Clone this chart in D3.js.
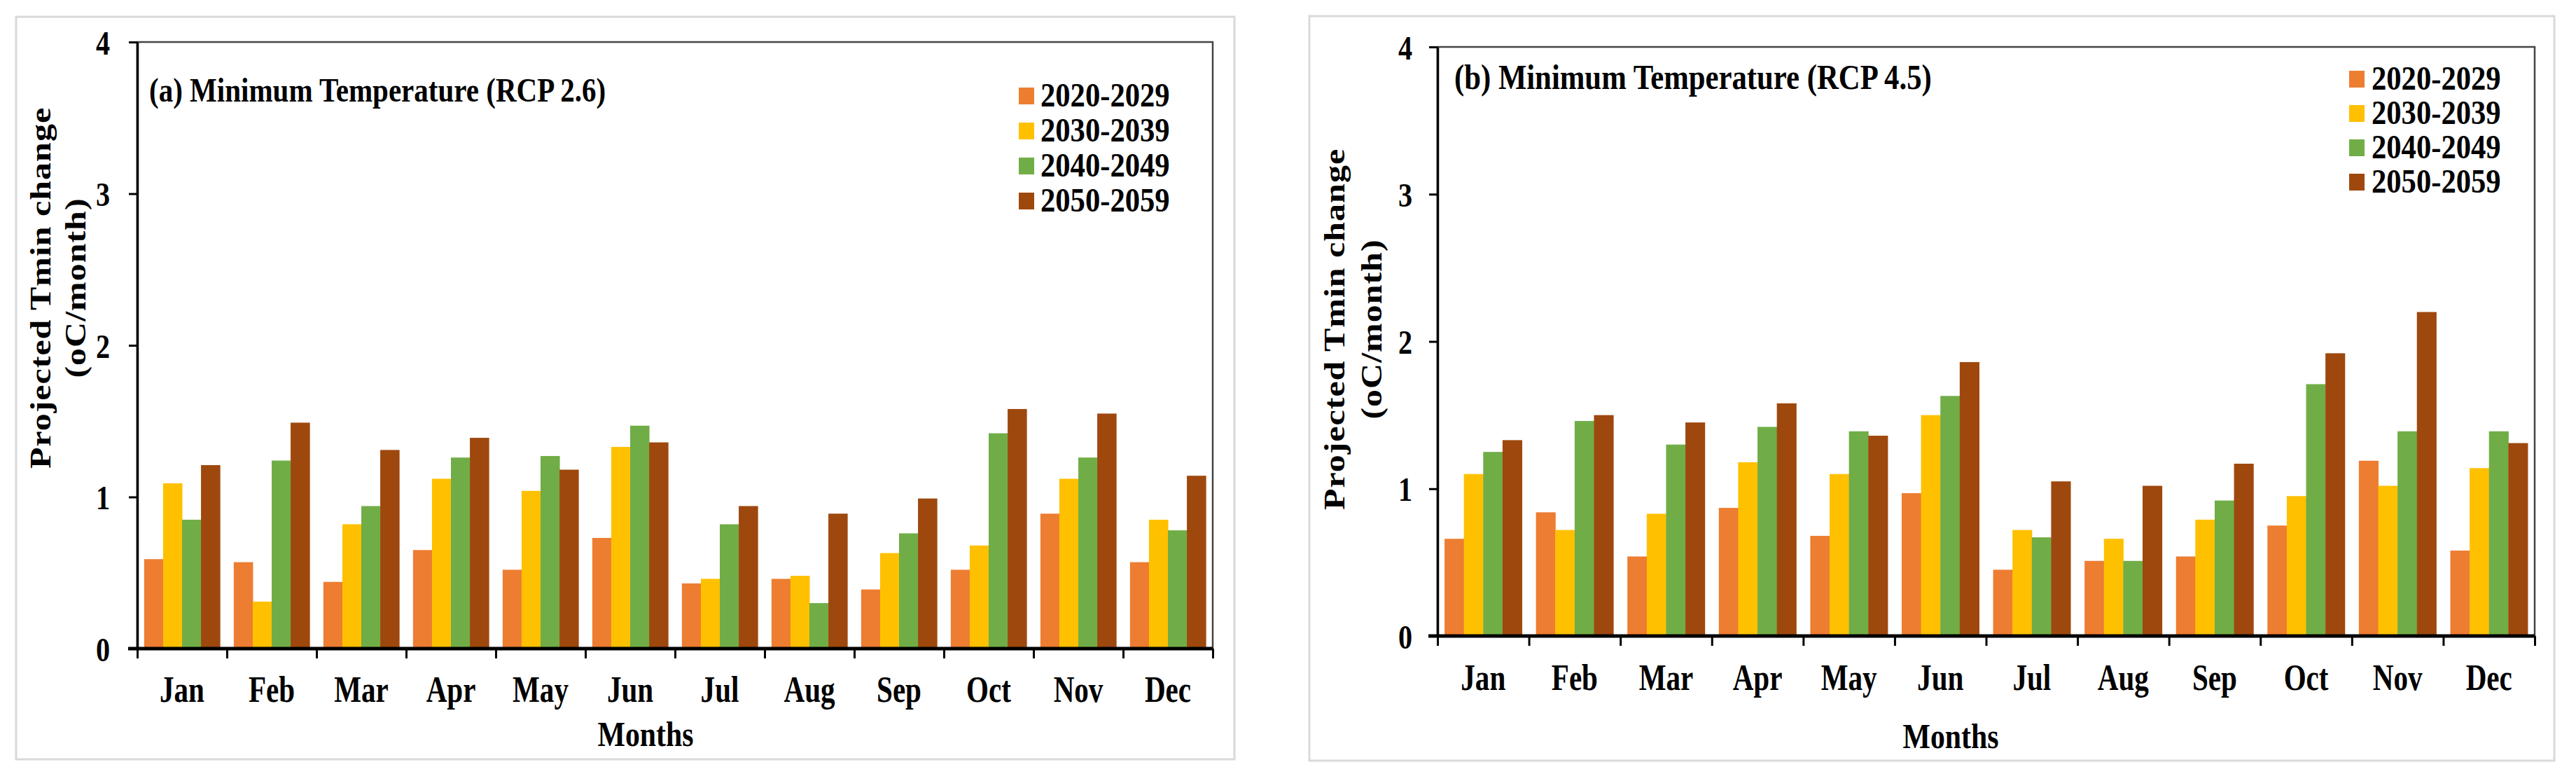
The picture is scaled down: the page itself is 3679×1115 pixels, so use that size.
<!DOCTYPE html>
<html>
<head>
<meta charset="utf-8">
<script src="https://cdn.jsdelivr.net/npm/d3@7"></script>
<style>
  body { margin: 0; background: #fff; }
  text { font-family: "Liberation Serif", "Times New Roman", serif; font-weight: bold; fill: #000; }
</style>
</head>
<body>
<div id="chart"></div>
<script>
// Data
var months = ["Jan", "Feb", "Mar", "Apr", "May", "Jun", "Jul", "Aug", "Sep", "Oct", "Nov", "Dec"];
var periods = ["2020-2029", "2030-2039", "2040-2049", "2050-2059"];
var colors = ["#ED7D31", "#FFC000", "#70AD47", "#9E480E"];
var yTicks = [0, 1, 2, 3, 4];

// (a) RCP 2.6
var rcp26_2020 = [0.59, 0.57, 0.44, 0.65, 0.52, 0.73, 0.43, 0.46, 0.39, 0.52, 0.89, 0.57];
var rcp26_2030 = [1.09, 0.31, 0.82, 1.12, 1.04, 1.33, 0.46, 0.48, 0.63, 0.68, 1.12, 0.85];
var rcp26_2040 = [0.85, 1.24, 0.94, 1.26, 1.27, 1.47, 0.82, 0.30, 0.76, 1.42, 1.26, 0.78];
var rcp26_2050 = [1.21, 1.49, 1.31, 1.39, 1.18, 1.36, 0.94, 0.89, 0.99, 1.58, 1.55, 1.14];

// (b) RCP 4.5
var rcp45_2020 = [0.66, 0.84, 0.54, 0.87, 0.68, 0.97, 0.45, 0.51, 0.54, 0.75, 1.19, 0.58];
var rcp45_2030 = [1.10, 0.72, 0.83, 1.18, 1.10, 1.50, 0.72, 0.66, 0.79, 0.95, 1.02, 1.14];
var rcp45_2040 = [1.25, 1.46, 1.30, 1.42, 1.39, 1.63, 0.67, 0.51, 0.92, 1.71, 1.39, 1.39];
var rcp45_2050 = [1.33, 1.50, 1.45, 1.58, 1.36, 1.86, 1.05, 1.02, 1.17, 1.92, 2.20, 1.31];

var W = 3679, H = 1115;

var panels = [
  {
    title: "(a) Minimum Temperature (RCP 2.6)",
    series: [rcp26_2020, rcp26_2030, rcp26_2040, rcp26_2050],
    frame: { x: 23, y: 24, w: 1740, h: 1060 },
    plot: { left: 196, right: 1732, top: 60, bottom: 926 },
    titlePos: { x: 213, y: 145, size: 48 },
    legend: { swatchX: 1455, textX: 1486, y0: 152, dy: 50 },
    ylab: { x1: 72, x2: 122, cy: 411 },
    tickGap: 39,
    xlabGap: 76,
    monthsPos: { x: 922, y: 1065 }
  },
  {
    title: "(b) Minimum Temperature (RCP 4.5)",
    series: [rcp45_2020, rcp45_2030, rcp45_2040, rcp45_2050],
    frame: { x: 1870, y: 23, w: 1778, h: 1063 },
    plot: { left: 2053, right: 3620, top: 67, bottom: 908 },
    titlePos: { x: 2077, y: 127, size: 50 },
    legend: { swatchX: 3355, textX: 3387, y0: 128, dy: 49 },
    ylab: { x1: 1920, x2: 1973, cy: 470 },
    tickGap: 36,
    xlabGap: 77,
    monthsPos: { x: 2786, y: 1068 }
  }
];

var svg = d3.select("#chart")
  .append("svg")
  .attr("width", W)
  .attr("height", H);

svg.append("rect").attr("width", W).attr("height", H).attr("fill", "#fff");

// the source picture is squeezed horizontally, so text gets a narrow x scale
var SQ = 0.855;

panels.forEach(function (p) {
  var g = svg.append("g");

  // outer light frame
  g.append("rect")
    .attr("x", p.frame.x).attr("y", p.frame.y)
    .attr("width", p.frame.w).attr("height", p.frame.h)
    .attr("fill", "#fff")
    .attr("stroke", "#d9d9d9")
    .attr("stroke-width", 3);

  var x0 = d3.scaleBand()
    .domain(months)
    .range([p.plot.left, p.plot.right])
    .padding(0);

  var pad = x0.bandwidth() * 0.077;
  var x1 = d3.scaleBand()
    .domain(d3.range(periods.length))
    .range([pad, x0.bandwidth() - pad])
    .padding(0);

  var y = d3.scaleLinear()
    .domain([0, 4])
    .range([p.plot.bottom, p.plot.top]);

  // plot border (top and right)
  g.append("rect")
    .attr("x", p.plot.left).attr("y", y(4))
    .attr("width", p.plot.right - p.plot.left)
    .attr("height", y(0) - y(4))
    .attr("fill", "none")
    .attr("stroke", "#444")
    .attr("stroke-width", 2.5);

  // bars
  var groups = g.append("g")
    .selectAll("g")
    .data(months)
    .enter().append("g")
    .attr("transform", function (m) { return "translate(" + x0(m) + ",0)"; });

  groups.selectAll("rect")
    .data(function (m, i) {
      return p.series.map(function (s, k) { return { k: k, v: s[i] }; });
    })
    .enter().append("rect")
    .attr("x", function (d) { return x1(d.k); })
    .attr("width", x1.bandwidth() + 0.5)
    .attr("y", function (d) { return y(d.v); })
    .attr("height", function (d) { return y(0) - y(d.v); })
    .attr("fill", function (d) { return colors[d.k]; });

  // y axis
  var yAxis = g.append("g")
    .attr("transform", "translate(" + p.plot.left + ",0)")
    .call(d3.axisLeft(y).tickValues(yTicks).tickFormat(d3.format("d")).tickSize(12).tickSizeOuter(0));
  yAxis.select(".domain").attr("stroke", "#000").attr("stroke-width", 3.5);
  yAxis.selectAll(".tick line").attr("stroke", "#000").attr("stroke-width", 3);
  yAxis.selectAll(".tick text")
    .attr("x", 0)
    .attr("dy", "0.35em")
    .attr("text-anchor", "end")
    .attr("transform", "translate(" + (-p.tickGap) + ",0) scale(0.82,1)")
    .style("font-size", "49px")
    .attr("fill", "#000");

  // x axis: boundary ticks
  var xb = d3.scaleLinear().domain([0, months.length]).range([p.plot.left, p.plot.right]);
  var xAxis = g.append("g")
    .attr("transform", "translate(0," + p.plot.bottom + ")")
    .call(d3.axisBottom(xb).tickValues(d3.range(months.length + 1)).tickFormat("").tickSize(14).tickSizeOuter(0));
  xAxis.select(".domain").attr("stroke", "#000").attr("stroke-width", 5)
    .attr("d", "M" + (p.plot.left - 13) + ",0H" + p.plot.right);
  xAxis.selectAll(".tick line").attr("stroke", "#000").attr("stroke-width", 3);

  // x axis: month labels
  var xLab = g.append("g")
    .attr("transform", "translate(0," + p.plot.bottom + ")")
    .call(d3.axisBottom(x0).tickSize(0));
  xLab.select(".domain").remove();
  xLab.selectAll(".tick text")
    .attr("y", 0)
    .attr("dy", 0)
    .attr("transform", "translate(0," + p.xlabGap + ") scale(0.79,1)")
    .style("font-size", "52px")
    .attr("fill", "#000");

  // title inside plot
  g.append("text")
    .attr("transform", "translate(" + p.titlePos.x + "," + p.titlePos.y + ") scale(" + SQ + ",1)")
    .style("font-size", p.titlePos.size + "px")
    .text(p.title);

  // legend
  var leg = g.append("g");
  periods.forEach(function (name, k) {
    var by = p.legend.y0 + k * p.legend.dy;
    leg.append("rect")
      .attr("x", p.legend.swatchX).attr("y", by - 27)
      .attr("width", 22).attr("height", 24)
      .attr("fill", colors[k]);
    leg.append("text")
      .attr("transform", "translate(" + p.legend.textX + "," + by + ") scale(0.87,1)")
      .style("font-size", "49px")
      .text(name);
  });

  // y axis title, two lines
  g.append("text")
    .attr("transform", "translate(" + p.ylab.x1 + "," + p.ylab.cy + ") scale(" + SQ + ",1) rotate(-90)")
    .attr("text-anchor", "middle")
    .style("font-size", "50px")
    .style("letter-spacing", "1px")
    .text("Projected Tmin change");
  g.append("text")
    .attr("transform", "translate(" + p.ylab.x2 + "," + p.ylab.cy + ") scale(" + SQ + ",1) rotate(-90)")
    .attr("text-anchor", "middle")
    .style("font-size", "50px")
    .style("letter-spacing", "1px")
    .text("(oC/month)");

  // x axis title
  g.append("text")
    .attr("transform", "translate(" + p.monthsPos.x + "," + p.monthsPos.y + ") scale(0.835,1)")
    .attr("text-anchor", "middle")
    .style("font-size", "50px")
    .text("Months");
});
</script>
</body>
</html>
